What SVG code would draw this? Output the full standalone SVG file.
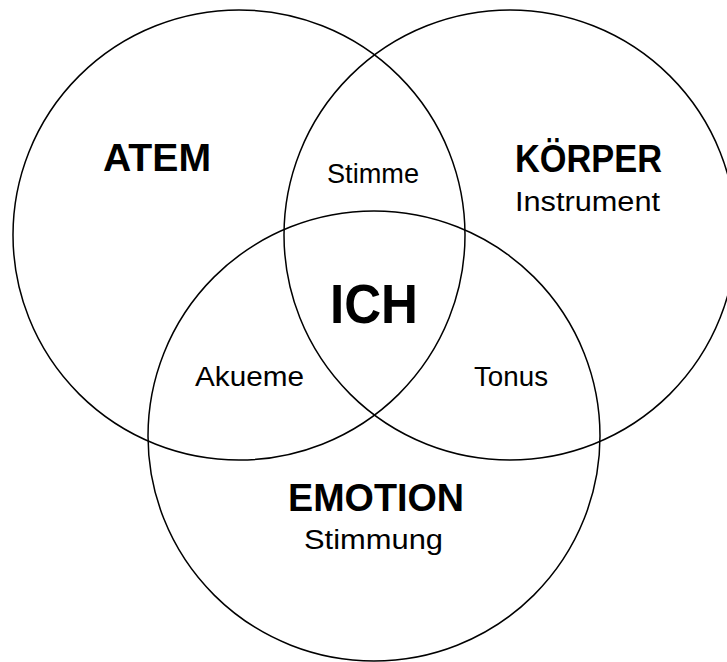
<svg xmlns="http://www.w3.org/2000/svg" width="727" height="662" viewBox="0 0 727 662">
<style>
.c{fill:none;stroke:#000;stroke-width:1.5}
text{font-family:"Liberation Sans",Arial,sans-serif;fill:#000}
.b{font-weight:bold;font-size:39px}
.r{font-size:27.5px}
</style>
<rect width="727" height="662" fill="#fff"/>
<g id="atem">
<ellipse class="c" cx="239" cy="235" rx="226" ry="225"/>
<text class="b" x="103" y="171" textLength="108" lengthAdjust="spacingAndGlyphs">ATEM</text>
</g>
<g id="koerper">
<ellipse class="c" cx="510" cy="235" rx="226" ry="225"/>
<text class="b" x="515" y="172" textLength="147" lengthAdjust="spacingAndGlyphs">KÖRPER</text>
<text class="r" x="515" y="211" textLength="145" lengthAdjust="spacingAndGlyphs">Instrument</text>
</g>
<g id="emotion">
<ellipse class="c" cx="374" cy="436" rx="226" ry="225"/>
<text class="b" x="288" y="511" textLength="176" lengthAdjust="spacingAndGlyphs">EMOTION</text>
<text class="r" x="304" y="549" textLength="139" lengthAdjust="spacingAndGlyphs">Stimmung</text>
</g>
<g id="stimme">
<text class="r" x="327" y="183" textLength="92" lengthAdjust="spacingAndGlyphs">Stimme</text>
</g>
<g id="akueme">
<text class="r" x="195" y="386" textLength="109" lengthAdjust="spacingAndGlyphs">Akueme</text>
</g>
<g id="tonus">
<text class="r" x="474" y="386" textLength="74" lengthAdjust="spacingAndGlyphs">Tonus</text>
</g>
<g id="ich">
<text x="330" y="323" font-size="55" font-weight="bold" textLength="88" lengthAdjust="spacingAndGlyphs">ICH</text>
</g>
<g id="connectors"></g>
</svg>
